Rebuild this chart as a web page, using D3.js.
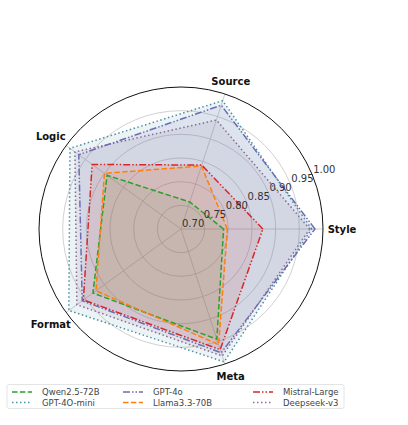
<!DOCTYPE html>
<html>
<head>
<meta charset="utf-8">
<script src="https://cdn.jsdelivr.net/npm/d3@7"></script>
<style>
  body { margin: 0; background: #fff; }
  text { font-family: "DejaVu Sans", sans-serif; }
</style>
</head>
<body>
<div id="chart"></div>
<script>
// axes and ticks
const axes = ["Style", "Source", "Logic", "Format", "Meta"];
const ticks = [0.70, 0.75, 0.80, 0.85, 0.90, 0.95, 1.00];

// one array per model, in the order of axes
const qwen     = [0.790, 0.760, 0.893, 0.930, 0.945];
const gpt4oMini = [0.976, 0.985, 0.990, 0.993, 0.995];
const gpt4o    = [0.983, 0.975, 0.967, 0.958, 0.975];
const llama    = [0.798, 0.840, 0.900, 0.922, 0.957];
const mistral  = [0.873, 0.842, 0.932, 0.955, 0.968];
const deepseek = [0.972, 0.942, 0.977, 0.972, 0.982];

const series = [
  { name: "Qwen2.5-72B",  values: qwen,      color: "#2ca02c", dash: "5.5,2.4" },
  { name: "GPT-4O-mini",  values: gpt4oMini, color: "#4b8fa6", dash: "1.5,2.5" },
  { name: "GPT-4o",       values: gpt4o,     color: "#6c6cb4", dash: "7,2,1.5,2,1.5,2" },
  { name: "Llama3.3-70B", values: llama,     color: "#ff7f0e", dash: "5.5,2.4" },
  { name: "Mistral-Large",values: mistral,   color: "#d62728", dash: "7,2,1.5,2,1.5,2" },
  { name: "Deepseek-v3",  values: deepseek,  color: "#8a6a96", dash: "1.5,2.5" }
];

const width = 408, height = 425;
const cx = 181, cy = 229, R = 142;

const svg = d3.select("#chart").append("svg")
    .attr("width", width)
    .attr("height", height);

const g = svg.append("g").attr("transform", `translate(${cx},${cy})`);

const r = d3.scaleLinear().domain([0.7, 1.0]).range([0, R]);
// d3 radial angle: 0 at top, clockwise; first axis points east
const angle = d3.scaleLinear().domain([0, axes.length]).range([Math.PI / 2, Math.PI / 2 - 2 * Math.PI]);

// grid rings
g.selectAll(".ring")
  .data(ticks.slice(1, -1))
  .enter().append("circle")
    .attr("r", d => r(d))
    .attr("fill", "none")
    .attr("stroke", "#c4c4c4")
    .attr("stroke-width", 0.8);

// spokes
g.selectAll(".spoke")
  .data(axes)
  .enter().append("line")
    .attr("x1", 0).attr("y1", 0)
    .attr("x2", (d, i) => R * Math.sin(angle(i)))
    .attr("y2", (d, i) => -R * Math.cos(angle(i)))
    .attr("stroke", "#c4c4c4")
    .attr("stroke-width", 0.8);

const radial = d3.lineRadial()
    .angle((d, i) => angle(i))
    .radius(d => r(d))
    .curve(d3.curveLinearClosed);

series.forEach(s => {
  g.append("path")
    .attr("d", radial(s.values))
    .attr("fill", s.color)
    .attr("fill-opacity", 0.11)
    .attr("stroke", "none");
});

series.forEach(s => {
  g.append("path")
    .attr("d", radial(s.values))
    .attr("fill", "none")
    .attr("stroke", s.color)
    .attr("stroke-width", 1.5)
    .attr("stroke-dasharray", s.dash);
});

// outer spine
g.append("circle")
  .attr("r", R)
  .attr("fill", "none")
  .attr("stroke", "#111")
  .attr("stroke-width", 1);

// radial tick labels at 22.5 degrees
const la = Math.PI / 8;
g.selectAll(".rlabel")
  .data(ticks)
  .enter().append("text")
    .attr("x", d => r(d) * Math.cos(la) + 1)
    .attr("y", d => -r(d) * Math.sin(la) - 2)
    .attr("font-size", 10)
    .attr("fill", "#333")
    .text(d => d.toFixed(2));

// axis labels
g.selectAll(".alabel")
  .data(axes)
  .enter().append("text")
    .attr("x", (d, i) => 161 * Math.sin(angle(i)))
    .attr("y", (d, i) => -157 * Math.cos(angle(i)) + (i === 3 ? 3 : i === 4 ? -2 : i === 1 ? 2 : 0))
    .attr("text-anchor", "middle")
    .attr("dominant-baseline", "central")
    .attr("font-size", 10)
    .attr("font-weight", "bold")
    .attr("fill", "#111")
    .text(d => d);

// legend, 3 columns, column-major
const lg = svg.append("g");
lg.append("rect")
  .attr("x", 7).attr("y", 384.5)
  .attr("width", 337).attr("height", 24)
  .attr("rx", 2)
  .attr("fill", "#fff")
  .attr("fill-opacity", 0.85)
  .attr("stroke", "#ddd")
  .attr("stroke-width", 0.8);

const colX = [12, 123, 253];
const rowY = [392, 402.5];
series.forEach((s, i) => {
  const x = colX[Math.floor(i / 2)], y = rowY[i % 2];
  lg.append("line")
    .attr("x1", x).attr("x2", x + 20)
    .attr("y1", y).attr("y2", y)
    .attr("stroke", s.color)
    .attr("stroke-width", 1.5)
    .attr("stroke-dasharray", s.dash);
  lg.append("text")
    .attr("x", x + 30).attr("y", y)
    .attr("dominant-baseline", "central")
    .attr("font-size", 8.5)
    .attr("fill", "#444")
    .text(s.name);
});
</script>
</body>
</html>
